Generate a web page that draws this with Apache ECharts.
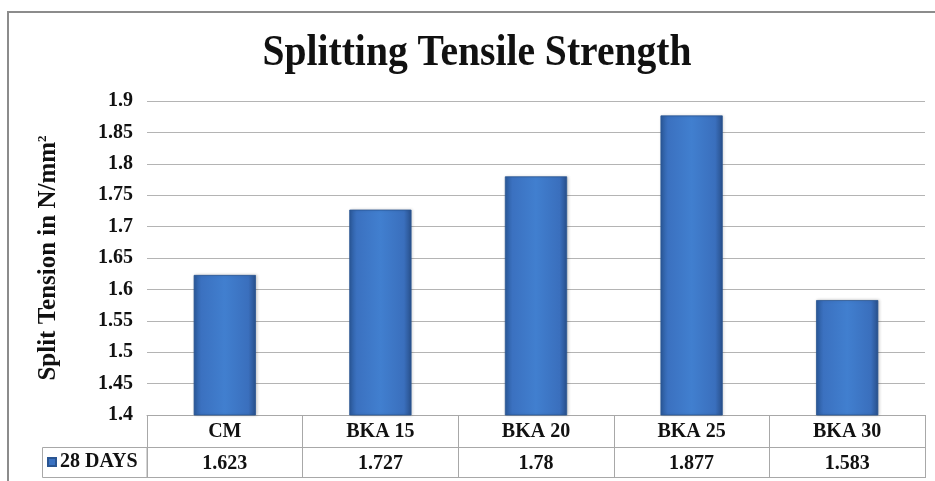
<!DOCTYPE html>
<html>
<head>
<meta charset="utf-8">
<script src="https://cdn.jsdelivr.net/npm/echarts@6/dist/echarts.min.js"></script>
<style>
  html, body { margin: 0; padding: 0; background: #ffffff; }
  #chart { width: 935px; height: 481px; }
</style>
</head>
<body>
<div id="chart"></div>
<script>
// Mix labels and 28-day splitting tensile strength (N/mm²)
const categories = ['CM', 'BKA 15', 'BKA 20', 'BKA 25', 'BKA 30'];
const strength28 = [1.623, 1.727, 1.78, 1.877, 1.583];
const seriesName = '28 DAYS';
const yTicks = { min: 1.4, max: 1.9, step: 0.05 };

const SERIF = '"Liberation Serif", "Times New Roman", serif';
const GRID_GRAY = '#b4b4b4';
const TABLE_GRAY = '#a8a8a8';
const LABEL_SIZE = 20;

const chart = echarts.init(document.getElementById('chart'), null, { renderer: 'canvas' });

const barFill = new echarts.graphic.LinearGradient(0, 0, 1, 0, [
  { offset: 0, color: '#2b5a9c' },
  { offset: 0.12, color: '#3b71c0' },
  { offset: 0.5, color: '#417fcf' },
  { offset: 0.88, color: '#3a6fbd' },
  { offset: 1, color: '#284f8a' }
]);

chart.setOption({
  backgroundColor: '#ffffff',
  animation: false,
  grid: { left: 147, right: 10, top: 101, bottom: 66, containLabel: false },
  legend: {
    data: [seriesName],
    left: 47,
    top: 452,
    padding: 0,
    itemWidth: 8,
    itemHeight: 8,
    icon: 'rect',
    itemStyle: { color: '#3a72c2' },
    textStyle: { fontFamily: SERIF, fontWeight: 'bold', fontSize: LABEL_SIZE, color: '#111', padding: [2, 0, 0, -1] }
  },
  xAxis: [
    {
      type: 'category',
      data: categories,
      position: 'bottom',
      boundaryGap: true,
      axisLine: { show: true, lineStyle: { color: TABLE_GRAY, width: 1 } },
      axisTick: { show: true, length: 63, alignWithLabel: false, lineStyle: { color: TABLE_GRAY, width: 1 } },
      axisLabel: { margin: 7, fontFamily: SERIF, fontWeight: 'bold', fontSize: LABEL_SIZE, color: '#111' }
    },
    {
      type: 'category',
      data: categories,
      position: 'bottom',
      offset: 32,
      boundaryGap: true,
      axisLine: { show: true, onZero: false, lineStyle: { color: TABLE_GRAY, width: 1 } },
      axisTick: { show: false },
      axisLabel: {
        margin: 7,
        fontFamily: SERIF, fontWeight: 'bold', fontSize: LABEL_SIZE, color: '#111',
        formatter: (v, i) => String(strength28[i])
      }
    },
    {
      type: 'category',
      data: categories,
      position: 'bottom',
      offset: 62,
      axisLine: { show: true, onZero: false, lineStyle: { color: TABLE_GRAY, width: 1 } },
      axisTick: { show: false },
      axisLabel: { show: false }
    }
  ],
  yAxis: {
    type: 'value',
    min: yTicks.min,
    max: yTicks.max,
    interval: yTicks.step,
    name: 'Split Tension in N/mm{sup|2}',
    nameLocation: 'middle',
    nameRotate: 90,
    nameGap: 86,
    nameTextStyle: {
      fontFamily: SERIF, fontWeight: 'bold', fontSize: 25, color: '#111',
      rich: { sup: { fontFamily: SERIF, fontWeight: 'bold', fontSize: 13, color: '#111', verticalAlign: 'top', padding: [0, 0, 12, 0] } }
    },
    axisLine: { show: false },
    axisTick: { show: false },
    splitLine: { show: true, lineStyle: { color: GRID_GRAY, width: 1.2 } },
    axisLabel: {
      margin: 14,
      fontFamily: SERIF, fontWeight: 'bold', fontSize: LABEL_SIZE, color: '#111',
      formatter: v => String(+v.toFixed(2))
    }
  },
  series: [
    {
      name: seriesName,
      type: 'bar',
      xAxisIndex: 0,
      data: strength28,
      barWidth: '40%',
      itemStyle: {
        color: barFill,
        borderColor: '#2a5592',
        borderWidth: 0.8,
        shadowColor: 'rgba(0,0,0,0.18)',
        shadowBlur: 3,
        shadowOffsetX: 1,
        shadowOffsetY: 0
      }
    }
  ],
  graphic: [
    {
      type: 'rect',
      shape: { x: 8, y: 12, width: 960, height: 500 },
      style: { fill: 'none', stroke: '#8c8c8c', lineWidth: 2 },
      silent: true
    },
    {
      type: 'rect',
      shape: { x: 42.5, y: 447.5, width: 104.5, height: 30 },
      style: { fill: 'none', stroke: TABLE_GRAY, lineWidth: 1 },
      silent: true
    },
    {
      type: 'text',
      x: 477,
      y: 53,
      scaleX: 0.88,
      style: {
        text: 'Splitting Tensile Strength',
        font: 'bold 45px ' + SERIF,
        fill: '#111',
        textAlign: 'center',
        textVerticalAlign: 'middle'
      },
      silent: true
    }
  ]
});
</script>
</body>
</html>
